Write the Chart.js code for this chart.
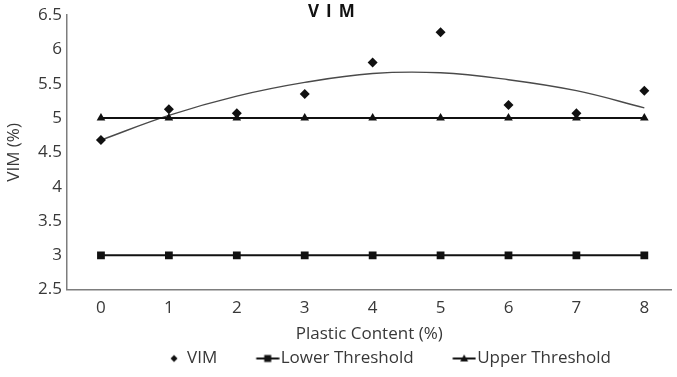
<!DOCTYPE html>
<html>
<head>
<meta charset="utf-8">
<script src="https://cdn.jsdelivr.net/npm/chart.js@4"></script>
<style>
  html, body { margin: 0; padding: 0; background: #fff; }
  #wrap { width: 677px; height: 377px; }
</style>
</head>
<body>
<div id="wrap"><canvas id="chart" width="677" height="377"></canvas></div>
<script>
// ─── Data ────────────────────────────────────────────────────────────────────
const plasticContent = [0, 1, 2, 3, 4, 5, 6, 7, 8];
const vimValues      = [4.68, 5.13, 5.07, 5.35, 5.81, 6.25, 5.19, 5.07, 5.40];
const trendValues    = [4.68, 5.04, 5.32, 5.52, 5.65, 5.66, 5.56, 5.40, 5.15];
const lowerValues    = [3, 3, 3, 3, 3, 3, 3, 3, 3];
const upperValues    = [5, 5, 5, 5, 5, 5, 5, 5, 5];
const yTickValues    = [2.5, 3, 3.5, 4, 4.5, 5, 5.5, 6, 6.5];
const seriesNames    = ['VIM', 'Lower Threshold', 'Upper Threshold'];

const FONT = '"Open Sans", sans-serif';
const FS = 17;
const INK = '#111';
const TEXT = '#383838';

const pts = vals => plasticContent.map((x, i) => ({ x, y: vals[i] }));

// ─── Legend icons (marker with a short line through it) ──────────────────────
function legendIcon(kind) {
  const c = document.createElement('canvas');
  c.width = 66; c.height = 12;
  const g = c.getContext('2d');
  const cx = 54, cy = 6;
  g.fillStyle = INK; g.strokeStyle = INK;
  if (kind !== 'diamond') {
    g.lineWidth = 2;
    g.beginPath(); g.moveTo(cx - 11.5, cy); g.lineTo(cx + 11.5, cy); g.stroke();
  }
  g.beginPath();
  if (kind === 'diamond') {
    g.moveTo(cx, cy - 3.5); g.lineTo(cx + 3.5, cy); g.lineTo(cx, cy + 3.5); g.lineTo(cx - 3.5, cy);
  } else if (kind === 'square') {
    g.rect(cx - 3.5, cy - 3.5, 7, 7);
  } else {
    g.moveTo(cx, cy - 4); g.lineTo(cx + 4, cy + 3); g.lineTo(cx - 4, cy + 3);
  }
  g.closePath(); g.fill();
  return c;
}
const icons = [legendIcon('diamond'), legendIcon('square'), legendIcon('triangle')];

// ─── Title drawn over the plot area ──────────────────────────────────────────
const titlePlugin = {
  id: 'vimTitle',
  afterDraw(chart) {
    const ctx = chart.ctx;
    ctx.save();
    ctx.font = 'bold 17px ' + FONT;
    ctx.letterSpacing = '7px';
    ctx.fillStyle = INK;
    ctx.textAlign = 'left';
    ctx.textBaseline = 'middle';
    ctx.fillText('VIM', chart.chartArea.left + 241, 12);
    ctx.restore();
  }
};

new Chart(document.getElementById('chart'), {
  type: 'line',
  data: {
    datasets: [
      { label: seriesNames[0], data: pts(vimValues), showLine: false,
        pointStyle: 'rectRot', pointRadius: 5, backgroundColor: INK, borderColor: INK, borderWidth: 0 },
      { label: seriesNames[1], data: pts(lowerValues), borderColor: INK, borderWidth: 2,
        pointStyle: 'rect', pointRadius: 5.5, backgroundColor: INK, pointBorderWidth: 0 },
      { label: seriesNames[2], data: pts(upperValues), borderColor: INK, borderWidth: 2,
        pointStyle: 'triangle', pointRadius: 5, backgroundColor: INK, pointBorderWidth: 0 },
      { label: 'trend', data: pts(trendValues), borderColor: '#4a4a4a', borderWidth: 1.4,
        pointRadius: 0, tension: 0.4, fill: false },
    ],
  },
  options: {
    responsive: false,
    animation: false,
    layout: { padding: { top: 13, right: 0, bottom: 0, left: 0 } },
    plugins: {
      tooltip: { enabled: false },
      legend: {
        position: 'bottom',
        fullSize: false,
        maxHeight: 33,
        labels: {
          usePointStyle: true,
          pointStyleWidth: 51,
          padding: 4,
          color: TEXT,
          font: { family: FONT, size: FS },
          filter: item => item.datasetIndex < 3,
          generateLabels: chart => Chart.defaults.plugins.legend.labels.generateLabels(chart)
            .map(l => Object.assign(l, { pointStyle: icons[l.datasetIndex] })),
        },
      },
    },
    scales: {
      x: {
        type: 'linear',
        min: -0.5, max: 8.4,
        afterBuildTicks: s => { s.ticks = plasticContent.map(v => ({ value: v })); },
        afterFit: s => { s.height = 56.4; },
        grid: { display: false, drawTicks: false },
        border: { display: true, color: '#7d7d7d', width: 1.5 },
        ticks: { padding: 8, color: TEXT, font: { family: FONT, size: FS }, callback: v => String(v) },
        title: { display: true, text: 'Plastic Content (%)', color: TEXT,
                 font: { family: FONT, size: FS }, padding: { top: 2, bottom: 2 } },
      },
      y: {
        min: 2.5, max: 6.5,
        afterBuildTicks: s => { s.ticks = yTickValues.map(v => ({ value: v })); },
        afterFit: s => { s.width = 67; },
        grid: { display: false, drawTicks: false },
        border: { display: true, color: '#7d7d7d', width: 1.5 },
        ticks: { padding: 5, color: TEXT, font: { family: FONT, size: FS }, callback: v => String(v) },
        title: { display: true, text: 'VIM (%)', color: TEXT,
                 font: { family: FONT, size: FS }, padding: { top: 4, bottom: 0 } },
      },
    },
  },
  plugins: [titlePlugin],
});
</script>
</body>
</html>
